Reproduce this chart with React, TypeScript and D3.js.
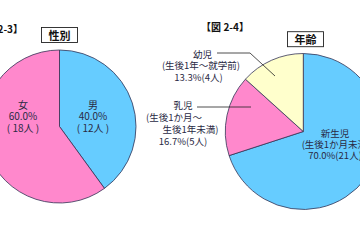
import React from "react";
import * as d3 from "d3";

const sexLabels = ["男", "女"];
const sexValues = [40.0, 60.0];
const sexCounts = [12, 18];

const ageLabels = ["新生児", "乳児", "幼児"];
const ageSubs = [["(生後1か月未満)"], ["(生後1か月～", "生後1年未満)"], ["(生後1年～就学前)"]];
const ageValues = [70.0, 16.7, 13.3];
const ageCounts = [21, 5, 4];

const sexColors = ["#66CCFF", "#FF88CC"];
const ageColors = ["#66CCFF", "#FF88CC", "#FFFFCC"];

const FONT = "'Noto Sans CJK JP', 'Noto Sans', sans-serif";
const TXT = "#2a2a44";

export default function App() {
  const pie = d3.pie<number>().sort(null).value((d) => d);
  const sexArcs = pie(sexValues);
  const ageArcs = pie(ageValues);
  const arcL = d3.arc<d3.PieArcDatum<number>>().innerRadius(0).outerRadius(76.5);
  const arcR = d3.arc<d3.PieArcDatum<number>>().innerRadius(0).outerRadius(78);

  const L = { x: 59.5, y: 126.5 };
  const R = { x: 303.3, y: 131.5 };

  const sexLabelPos = [
    { x: 93, y: 104 },
    { x: 23, y: 104 },
  ];

  return (
    <svg
      width={360}
      height={240}
      style={{ position: "fixed", left: 0, top: 0, background: "#fff" }}
      fontFamily={FONT}
    >
      <rect width={360} height={240} fill="#fff" />
      {/* Left chart */}
      <text x={23} y={28} fontSize={10} fontWeight="bold" textAnchor="end" dominantBaseline="central" fill="#111">
        【図 2-3】
      </text>
      <rect x={41.5} y={27.5} width={36} height={15} fill="#fff" stroke="#222" strokeWidth={0.9} />
      <text x={59.5} y={35.2} fontSize={11} fontWeight="bold" textAnchor="middle" dominantBaseline="central" fill="#111">
        性別
      </text>
      <g transform={`translate(${L.x},${L.y})`}>
        {sexArcs.map((a, i) => (
          <path key={i} d={arcL(a) || ""} fill={sexColors[i]} stroke="#333355" strokeWidth={0.8} />
        ))}
      </g>
      {sexLabels.map((lab, i) => (
        <g key={i} fill={TXT} fontSize={10} textAnchor="middle">
          <text x={sexLabelPos[i].x} y={sexLabelPos[i].y} dominantBaseline="central">{lab}</text>
          <text x={sexLabelPos[i].x} y={sexLabelPos[i].y + 11.5} dominantBaseline="central">
            {sexValues[i].toFixed(1)}%
          </text>
          <text x={sexLabelPos[i].x} y={sexLabelPos[i].y + 23} dominantBaseline="central">
            ( {sexCounts[i]}人 )
          </text>
        </g>
      ))}

      {/* Right chart */}
      <text x={225} y={26.7} fontSize={10} fontWeight="bold" textAnchor="middle" dominantBaseline="central" fill="#111">
        【図 2-4】
      </text>
      <rect x={287.5} y={31.7} width={36} height={15} fill="#fff" stroke="#222" strokeWidth={0.9} />
      <text x={305.5} y={39.4} fontSize={11} fontWeight="bold" textAnchor="middle" dominantBaseline="central" fill="#111">
        年齢
      </text>
      <g transform={`translate(${R.x},${R.y})`}>
        {ageArcs.map((a, i) => (
          <path key={i} d={arcR(a) || ""} fill={ageColors[i]} stroke="#333355" strokeWidth={0.8} />
        ))}
      </g>
      {/* leader lines */}
      <polyline points="217,53 250,53 275,76" fill="none" stroke="#222" strokeWidth={0.8} />
      <polyline points="197,107 251,107" fill="none" stroke="#222" strokeWidth={0.8} />

      <g fill={TXT} fontSize={9.5} textAnchor="middle">
        {/* 新生児 */}
        <text x={335} y={133} dominantBaseline="central">{ageLabels[0]}</text>
        <text x={336} y={144} dominantBaseline="central">{ageSubs[0][0]}</text>
        <text x={335} y={155} dominantBaseline="central">
          {ageValues[0].toFixed(1)}%({ageCounts[0]}人)
        </text>
        {/* 乳児 */}
        <text x={183} y={104.5} dominantBaseline="central">{ageLabels[1]}</text>
        <text x={174} y={117} dominantBaseline="central">{ageSubs[1][0]}</text>
        <text x={190.5} y={129} dominantBaseline="central">{ageSubs[1][1]}</text>
        <text x={183} y={141} dominantBaseline="central">
          {ageValues[1].toFixed(1)}%({ageCounts[1]}人)
        </text>
        {/* 幼児 */}
        <text x={202.5} y={53.5} dominantBaseline="central">{ageLabels[2]}</text>
        <text x={201} y={65} dominantBaseline="central">{ageSubs[2][0]}</text>
        <text x={198.5} y={77} dominantBaseline="central">
          {ageValues[2].toFixed(1)}%({ageCounts[2]}人)
        </text>
      </g>
    </svg>
  );
}
